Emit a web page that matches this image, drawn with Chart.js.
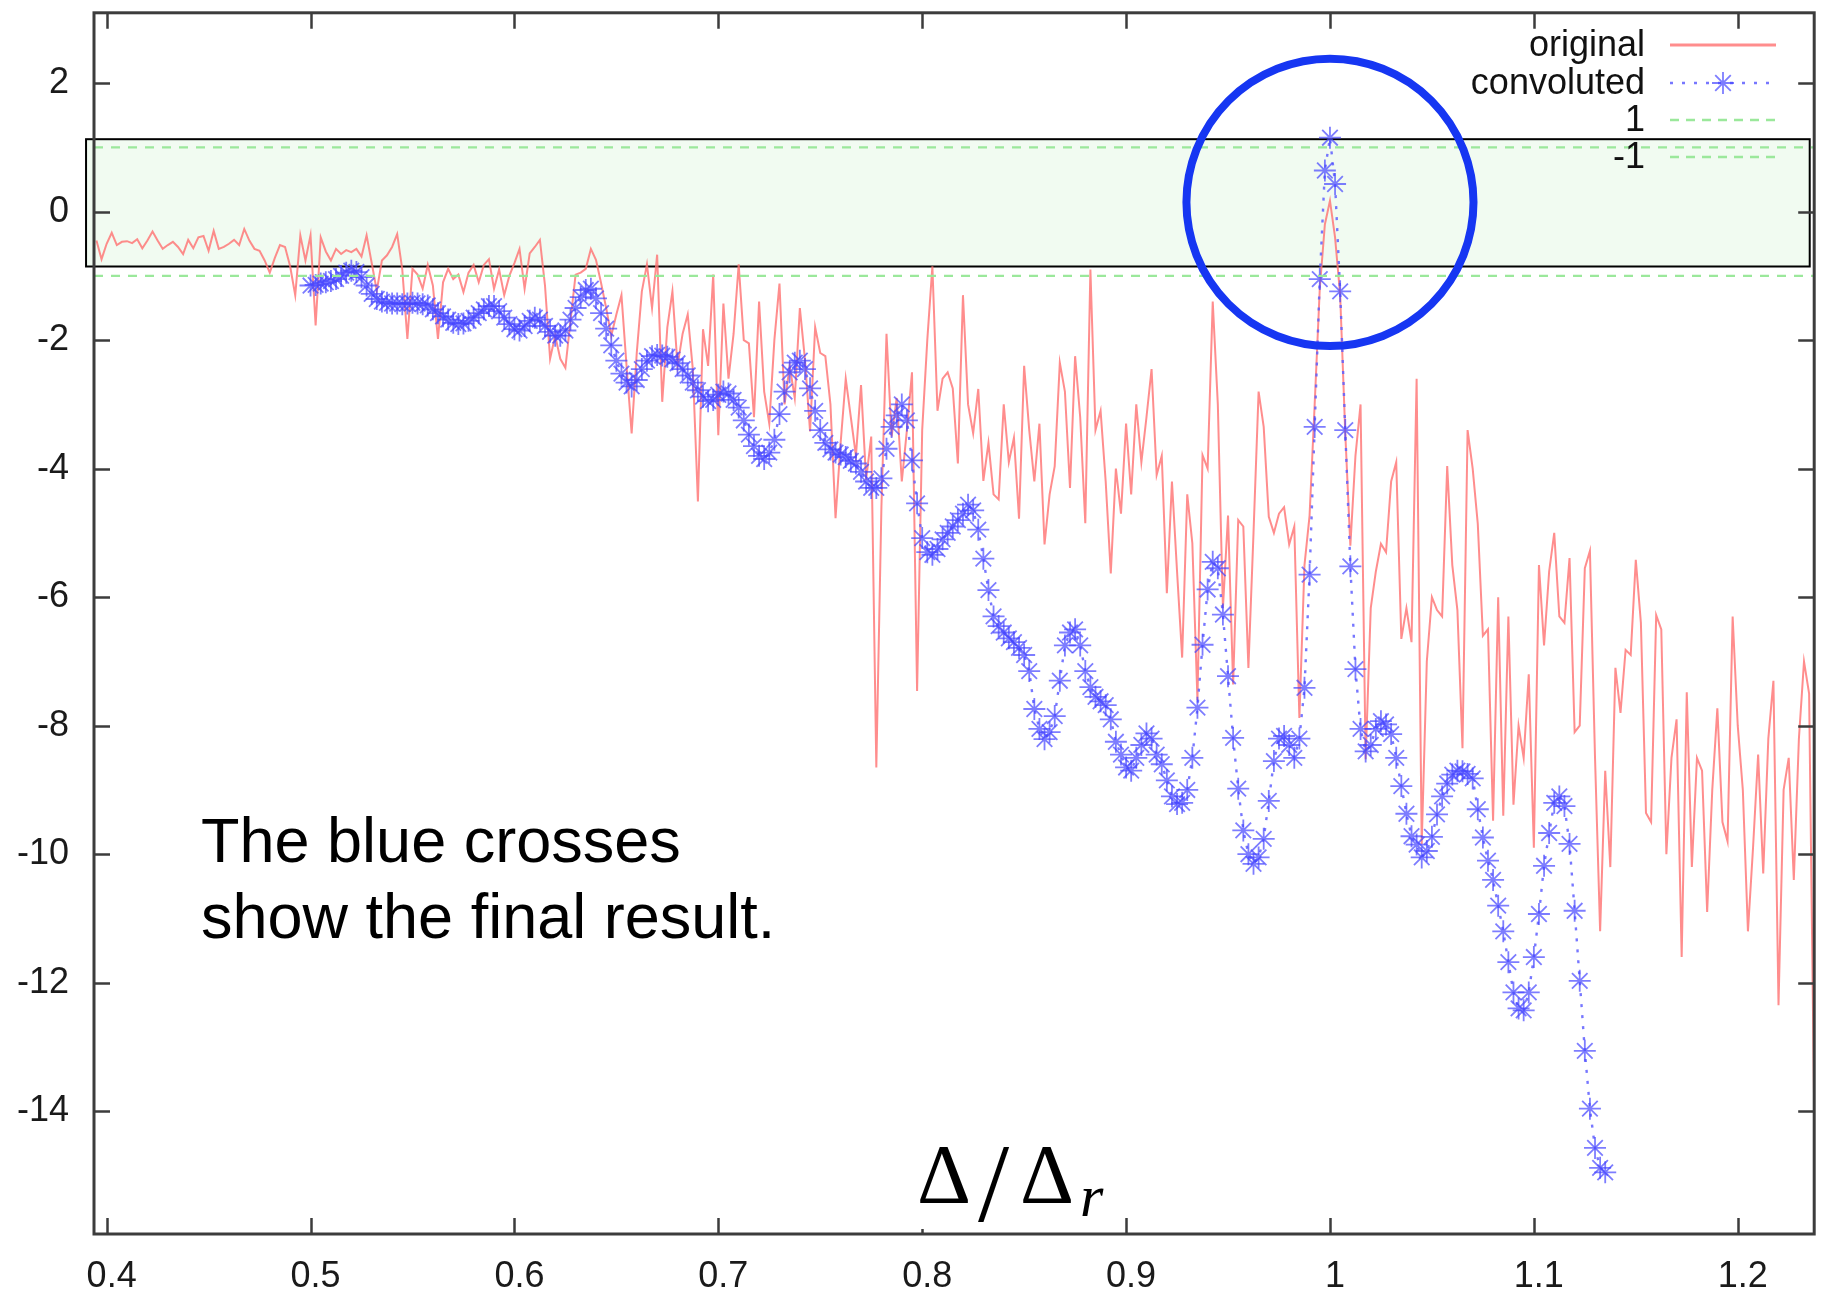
<!DOCTYPE html>
<html>
<head>
<meta charset="utf-8">
<title>original vs convoluted</title>
<script src="https://cdn.jsdelivr.net/npm/chart.js@4.4.1/dist/chart.umd.min.js"></script>
<style>
  html, body { margin: 0; padding: 0; background: #ffffff; }
  #wrap { width: 1827px; height: 1294px; position: relative; }
  canvas { display: block; }
</style>
</head>
<body>
<div id="wrap"><canvas id="chart" width="1827" height="1294"></canvas></div>
<script>
// ---- data ---------------------------------------------------------------
// "original" curve, sampled every originalStep in Δ/Δr starting at originalStart
const originalStart = 0.395;
const originalStep = 0.0025;
const originalValues = [
  -0.45,-0.74,-0.50,-0.33,-0.52,-0.47,-0.46,-0.49,-0.43,-0.57,-0.45,-0.31,-0.45,-0.58,-0.52,-0.47,-0.55,-0.66,-0.44,-0.57,
  -0.40,-0.38,-0.61,-0.30,-0.58,-0.55,-0.50,-0.44,-0.52,-0.27,-0.45,-0.58,-0.61,-0.76,-0.95,-0.72,-0.52,-0.55,-0.85,-1.30,
  -0.37,-0.76,-0.37,-1.77,-0.40,-0.62,-0.76,-0.58,-0.66,-0.60,-0.63,-0.58,-0.70,-0.37,-0.80,-1.23,-0.76,-0.68,-0.55,-0.35,
  -0.90,-1.98,-0.89,-0.98,-1.20,-0.83,-1.15,-1.98,-1.10,-0.89,-1.05,-0.98,-1.25,-0.95,-0.83,-1.10,-0.83,-0.74,-1.20,-0.90,
  -1.30,-1.00,-0.80,-0.58,-1.20,-0.65,-0.55,-0.44,-1.15,-2.29,-1.93,-2.29,-2.43,-1.70,-0.98,-0.95,-0.89,-0.58,-0.75,-1.11,
  -1.50,-1.93,-1.60,-1.30,-2.40,-3.45,-2.20,-1.24,-0.82,-1.50,-0.67,-2.96,-1.80,-1.24,-2.40,-1.90,-1.60,-2.45,-4.51,-1.83,
  -2.40,-0.98,-3.48,-1.43,-2.60,-1.90,-0.82,-2.00,-2.05,-3.20,-1.40,-2.80,-3.30,-2.00,-1.12,-3.00,-2.40,-2.90,-1.50,-2.30,
  -3.42,-1.80,-2.20,-2.25,-3.00,-4.77,-3.60,-2.60,-3.20,-3.80,-2.70,-4.17,-3.50,-8.65,-4.60,-1.90,-3.50,-2.90,-4.20,-3.40,
  -2.50,-7.46,-3.40,-2.00,-0.85,-3.10,-2.60,-2.50,-2.75,-3.92,-1.30,-3.00,-3.45,-2.76,-4.19,-3.60,-4.40,-4.48,-3.00,-3.90,
  -3.52,-4.78,-2.40,-3.40,-4.20,-3.30,-5.18,-4.40,-3.96,-2.35,-2.80,-4.30,-2.25,-3.20,-4.85,-0.90,-3.40,-3.10,-4.20,-5.63,
  -4.00,-4.70,-3.30,-4.40,-3.00,-3.90,-3.20,-2.45,-4.10,-3.80,-5.94,-4.20,-5.60,-6.94,-4.40,-5.16,-7.60,-3.79,-4.00,-1.40,
  -3.00,-6.17,-4.73,-7.36,-4.80,-4.90,-7.10,-5.00,-2.80,-3.35,-4.75,-5.00,-4.70,-4.60,-5.18,-4.90,-7.88,-5.50,-4.73,-3.00,
  -1.20,-0.20,0.17,-0.40,-1.30,-3.44,-5.20,-3.80,-3.00,-8.52,-6.17,-5.60,-5.17,-5.30,-4.20,-3.90,-6.65,-6.17,-6.70,-2.60,
  -9.84,-7.00,-6.00,-6.20,-6.30,-3.96,-5.50,-6.20,-8.35,-3.40,-4.00,-4.86,-6.60,-6.50,-9.48,-6.00,-9.40,-6.30,-9.23,-8.00,
  -8.50,-7.20,-9.90,-5.50,-6.75,-5.60,-5.00,-6.30,-6.40,-5.39,-8.10,-8.00,-5.55,-5.28,-8.50,-11.20,-8.70,-10.20,-7.10,-7.80,
  -6.82,-6.90,-5.42,-6.40,-9.36,-9.50,-6.28,-6.50,-10.00,-8.50,-7.90,-11.60,-7.48,-10.20,-8.50,-8.70,-10.90,-9.00,-7.73,-9.50,
  -9.80,-6.30,-8.00,-9.00,-11.20,-9.90,-8.45,-10.30,-8.20,-7.30,-12.35,-9.00,-8.50,-10.40,-8.20,-7.00,-7.50,-14.00
];

// "convoluted" curve, sampled every convolutedStep starting at convolutedStart
const convolutedStart = 0.5;
const convolutedStep = 0.0025;
const convolutedValues = [
  -1.15,-1.14,-1.12,-1.10,-1.08,-1.05,-1.00,-0.95,-0.92,-0.94,-1.02,-1.15,-1.28,-1.36,-1.40,-1.42,-1.43,-1.43,-1.44,-1.43,
  -1.42,-1.43,-1.44,-1.46,-1.52,-1.58,-1.63,-1.68,-1.73,-1.75,-1.74,-1.70,-1.65,-1.58,-1.52,-1.47,-1.47,-1.55,-1.65,-1.75,
  -1.83,-1.85,-1.78,-1.70,-1.65,-1.68,-1.78,-1.87,-1.93,-1.93,-1.85,-1.68,-1.50,-1.33,-1.22,-1.20,-1.35,-1.58,-1.82,-2.08,
  -2.32,-2.52,-2.66,-2.72,-2.62,-2.45,-2.32,-2.25,-2.23,-2.24,-2.26,-2.30,-2.36,-2.45,-2.55,-2.66,-2.78,-2.88,-2.95,-2.93,
  -2.85,-2.80,-2.83,-2.93,-3.05,-3.25,-3.47,-3.65,-3.80,-3.85,-3.75,-3.55,-3.15,-2.80,-2.50,-2.35,-2.32,-2.45,-2.75,-3.10,
  -3.40,-3.60,-3.70,-3.75,-3.78,-3.82,-3.88,-3.92,-4.05,-4.20,-4.30,-4.30,-4.15,-3.69,-3.35,-3.17,-3.00,-3.25,-3.87,-4.54,
  -5.08,-5.30,-5.34,-5.25,-5.10,-5.00,-4.90,-4.80,-4.70,-4.56,-4.65,-4.95,-5.40,-5.89,-6.30,-6.45,-6.55,-6.64,-6.70,-6.79,
  -6.90,-7.15,-7.74,-8.05,-8.21,-8.10,-7.85,-7.30,-6.75,-6.55,-6.50,-6.75,-7.15,-7.40,-7.55,-7.62,-7.68,-7.90,-8.25,-8.45,
  -8.65,-8.70,-8.50,-8.30,-8.12,-8.20,-8.45,-8.60,-8.85,-9.10,-9.22,-9.20,-9.00,-8.50,-7.72,-6.74,-5.88,-5.45,-5.55,-6.27,
  -7.23,-8.19,-8.98,-9.63,-10.00,-10.15,-10.05,-9.76,-9.17,-8.55,-8.20,-8.16,-8.30,-8.50,-8.20,-7.41,-5.65,-3.35,-1.05,0.64,
  1.15,0.43,-1.24,-3.40,-5.52,-7.12,-8.05,-8.40,-8.30,-8.05,-7.93,-7.98,-8.13,-8.50,-8.94,-9.37,-9.72,-9.85,-10.05,-9.95,
  -9.73,-9.38,-9.10,-8.90,-8.76,-8.70,-8.71,-8.75,-8.82,-9.30,-9.74,-10.10,-10.40,-10.80,-11.20,-11.68,-12.15,-12.40,-12.43,-12.15,
  -11.60,-10.93,-10.18,-9.67,-9.20,-9.10,-9.25,-9.84,-10.88,-11.97,-13.06,-13.96,-14.57,-14.88,-14.95
];

// reference levels drawn as dashed lines
const levelValues = [1, -1];

// axis ticks and labels (ascending)
const xTickValues = [0.4, 0.5, 0.6, 0.7, 0.8, 0.9, 1.0, 1.1, 1.2];
const xTickLabels = ['0.4', '0.5', '0.6', '0.7', '0.8', '0.9', '1', '1.1', '1.2'];
const yTickValues = [-14, -12, -10, -8, -6, -4, -2, 0, 2];
const yTickLabels = ['-14', '-12', '-10', '-8', '-6', '-4', '-2', '0', '2'];
const xRange = [0.3938, 1.2375];
const yRange = [-15.91, 3.094];

// legend entries and annotation text
const seriesNames = ['original', 'convoluted', '1', '-1'];
const noteLines = ['The blue crosses', 'show the final result.'];

// highlighted band around zero and the ring around the peak at Δ/Δr = 1
const bandBox = { x0: 0.3899, x1: 1.2353, yLow: -0.854, yHigh: 1.127 };
const ring = { x: 1.0, y: 0.144, rx: 0.0704, ry: 2.236 };

// ---- helpers -------------------------------------------------------------
const toPoints = (start, step, values) =>
  values.map((v, i) => ({ x: +(start + i * step).toFixed(5), y: v }));

const SANS = '"Liberation Sans", Arial, Helvetica, sans-serif';
const SERIF = '"Liberation Serif", "Times New Roman", serif';
const AXIS_COLOR = '#3c3c3c';
const RED = 'rgba(255, 112, 112, 0.8)';
const BLUE_LINE = 'rgba(95, 95, 255, 0.85)';
const BLUE_STAR = 'rgba(70, 70, 255, 0.7)';
const GREEN = '#9be89b';

// keep the plot frame exactly where the layout puts it
const noScalePadding = s => { s.paddingTop = 0; s.paddingBottom = 0; s.paddingLeft = 0; s.paddingRight = 0; };

// band box under the curves, frame + inward ticks + ring over them, texts last
const decorations = {
  id: 'decorations',
  beforeDatasetsDraw(chart) {
    const { ctx, scales: { x, y } } = chart;
    const l = x.getPixelForValue(bandBox.x0), r = x.getPixelForValue(bandBox.x1);
    const t = y.getPixelForValue(bandBox.yHigh), b = y.getPixelForValue(bandBox.yLow);
    ctx.save();
    ctx.fillStyle = '#f1fbf1';
    ctx.fillRect(l, t, r - l, b - t);
    ctx.strokeStyle = '#000000';
    ctx.lineWidth = 2;
    ctx.strokeRect(l, t, r - l, b - t);
    ctx.restore();
  },
  afterDatasetsDraw(chart) {
    const { ctx, chartArea: a, scales: { x, y } } = chart;
    ctx.save();
    // frame
    ctx.strokeStyle = AXIS_COLOR;
    ctx.lineWidth = 3;
    ctx.strokeRect(a.left, a.top, a.right - a.left, a.bottom - a.top);
    // inward tick marks on all four sides
    ctx.lineWidth = 2.5;
    ctx.beginPath();
    x.ticks.forEach(t => {
      const px = Math.round(x.getPixelForValue(t.value)) + 0.5;
      ctx.moveTo(px, a.bottom); ctx.lineTo(px, a.bottom - 16);
      ctx.moveTo(px, a.top); ctx.lineTo(px, a.top + 16);
    });
    y.ticks.forEach(t => {
      const py = Math.round(y.getPixelForValue(t.value)) + 0.5;
      ctx.moveTo(a.left, py); ctx.lineTo(a.left + 16, py);
      ctx.moveTo(a.right, py); ctx.lineTo(a.right - 16, py);
    });
    ctx.stroke();
    // ring around the main peak
    const cx = x.getPixelForValue(ring.x), cy = y.getPixelForValue(ring.y);
    const rx = x.getPixelForValue(ring.x + ring.rx) - cx;
    const ry = y.getPixelForValue(ring.y - ring.ry) - cy;
    ctx.strokeStyle = '#1636f2';
    ctx.lineWidth = 8;
    ctx.beginPath();
    ctx.ellipse(cx, cy, rx, ry, 0, 0, Math.PI * 2);
    ctx.stroke();
    ctx.restore();
  },
  afterDraw(chart) {
    const { ctx } = chart;
    ctx.save();
    // legend (text right aligned, sample to the right)
    const rowsY = [45, 83, 120, 157];
    const textRight = 1645, sampleL = 1670, sampleR = 1776;
    ctx.font = '36px ' + SANS;
    ctx.fillStyle = '#111111';
    ctx.textAlign = 'right';
    ctx.textBaseline = 'middle';
    seriesNames.forEach((name, i) => ctx.fillText(name, textRight, rowsY[i] + 1));
    // original sample
    ctx.strokeStyle = RED; ctx.lineWidth = 3; ctx.setLineDash([]);
    ctx.beginPath(); ctx.moveTo(sampleL, rowsY[0]); ctx.lineTo(sampleR, rowsY[0]); ctx.stroke();
    // convoluted sample
    ctx.strokeStyle = BLUE_LINE; ctx.lineWidth = 2.5; ctx.setLineDash([3, 9]);
    ctx.beginPath(); ctx.moveTo(sampleL, rowsY[1]); ctx.lineTo(sampleR, rowsY[1]); ctx.stroke();
    ctx.setLineDash([]);
    ctx.strokeStyle = BLUE_STAR;
    ctx.lineWidth = 1.8;
    Chart.helpers.drawPoint(ctx, { pointStyle: 'star', radius: 11, borderWidth: 1.8 },
      (sampleL + sampleR) / 2, rowsY[1]);
    // level samples
    ctx.strokeStyle = GREEN; ctx.lineWidth = 2.5; ctx.setLineDash([9, 7]);
    [rowsY[2], rowsY[3]].forEach(yy => {
      ctx.beginPath(); ctx.moveTo(sampleL, yy); ctx.lineTo(sampleR, yy); ctx.stroke();
    });
    ctx.setLineDash([]);

    // note text
    ctx.textAlign = 'left';
    ctx.textBaseline = 'alphabetic';
    ctx.fillStyle = '#000000';
    ctx.font = '63px ' + SANS;
    ctx.fillText(noteLines[0], 201, 862);
    ctx.fillText(noteLines[1], 201, 938);

    // x axis title Δ/Δr on a white patch
    ctx.fillStyle = '#ffffff';
    ctx.fillRect(906, 1132, 214, 97);
    ctx.fillStyle = '#000000';
    ctx.font = '84px ' + SERIF;
    ctx.fillText('\u0394', 917, 1203);
    ctx.fillText('\u0394', 1020, 1203);
    ctx.font = '112px ' + SERIF;
    ctx.fillText('/', 978, 1221);
    ctx.font = 'italic 60px ' + SERIF;
    ctx.fillText('r', 1080, 1216);
    ctx.restore();
  }
};

const ctx = document.getElementById('chart').getContext('2d');
new Chart(ctx, {
  type: 'line',
  data: {
    datasets: [
      {
        label: seriesNames[0],
        data: toPoints(originalStart, originalStep, originalValues),
        borderColor: RED,
        borderWidth: 2,
        pointRadius: 0,
        tension: 0,
        order: 3
      },
      {
        label: seriesNames[1],
        data: toPoints(convolutedStart, convolutedStep, convolutedValues),
        borderColor: BLUE_LINE,
        borderWidth: 2.4,
        borderDash: [3, 8],
        pointStyle: 'star',
        pointRadius: 11,
        pointBorderWidth: 1.8,
        pointBorderColor: BLUE_STAR,
        pointBackgroundColor: BLUE_STAR,
        tension: 0,
        order: 2
      },
      {
        label: seriesNames[2],
        data: [{ x: xRange[0], y: levelValues[0] }, { x: xRange[1], y: levelValues[0] }],
        borderColor: GREEN,
        borderWidth: 2.2,
        borderDash: [9, 8],
        pointRadius: 0,
        order: 1
      },
      {
        label: seriesNames[3],
        data: [{ x: xRange[0], y: levelValues[1] }, { x: xRange[1], y: levelValues[1] }],
        borderColor: GREEN,
        borderWidth: 2.2,
        borderDash: [9, 8],
        pointRadius: 0,
        order: 1
      }
    ]
  },
  options: {
    responsive: false,
    animation: false,
    devicePixelRatio: 1,
    events: [],
    layout: { padding: { left: 0, top: 10, right: 8, bottom: 0 } },
    plugins: { legend: { display: false }, tooltip: { enabled: false } },
    scales: {
      x: {
        type: 'linear',
        min: xRange[0],
        max: xRange[1],
        afterBuildTicks: s => { s.ticks = xTickValues.map(v => ({ value: v })); },
        afterFit: s => { s.height = 60; noScalePadding(s); },
        grid: { display: false, drawTicks: false },
        border: { display: false },
        ticks: {
          autoSkip: false,
          maxRotation: 0,
          padding: 21,
          labelOffset: 5,
          color: '#1a1a1a',
          font: { family: SANS, size: 36 },
          callback: (v, i) => xTickLabels[i]
        }
      },
      y: {
        type: 'linear',
        min: yRange[0],
        max: yRange[1],
        afterBuildTicks: s => { s.ticks = yTickValues.map(v => ({ value: v })); },
        afterFit: s => { s.width = 94; noScalePadding(s); },
        grid: { display: false, drawTicks: false },
        border: { display: false },
        ticks: {
          autoSkip: false,
          padding: 25,
          color: '#1a1a1a',
          font: { family: SANS, size: 36 },
          callback: (v, i) => yTickLabels[i]
        }
      }
    }
  },
  plugins: [decorations]
});
</script>
</body>
</html>
